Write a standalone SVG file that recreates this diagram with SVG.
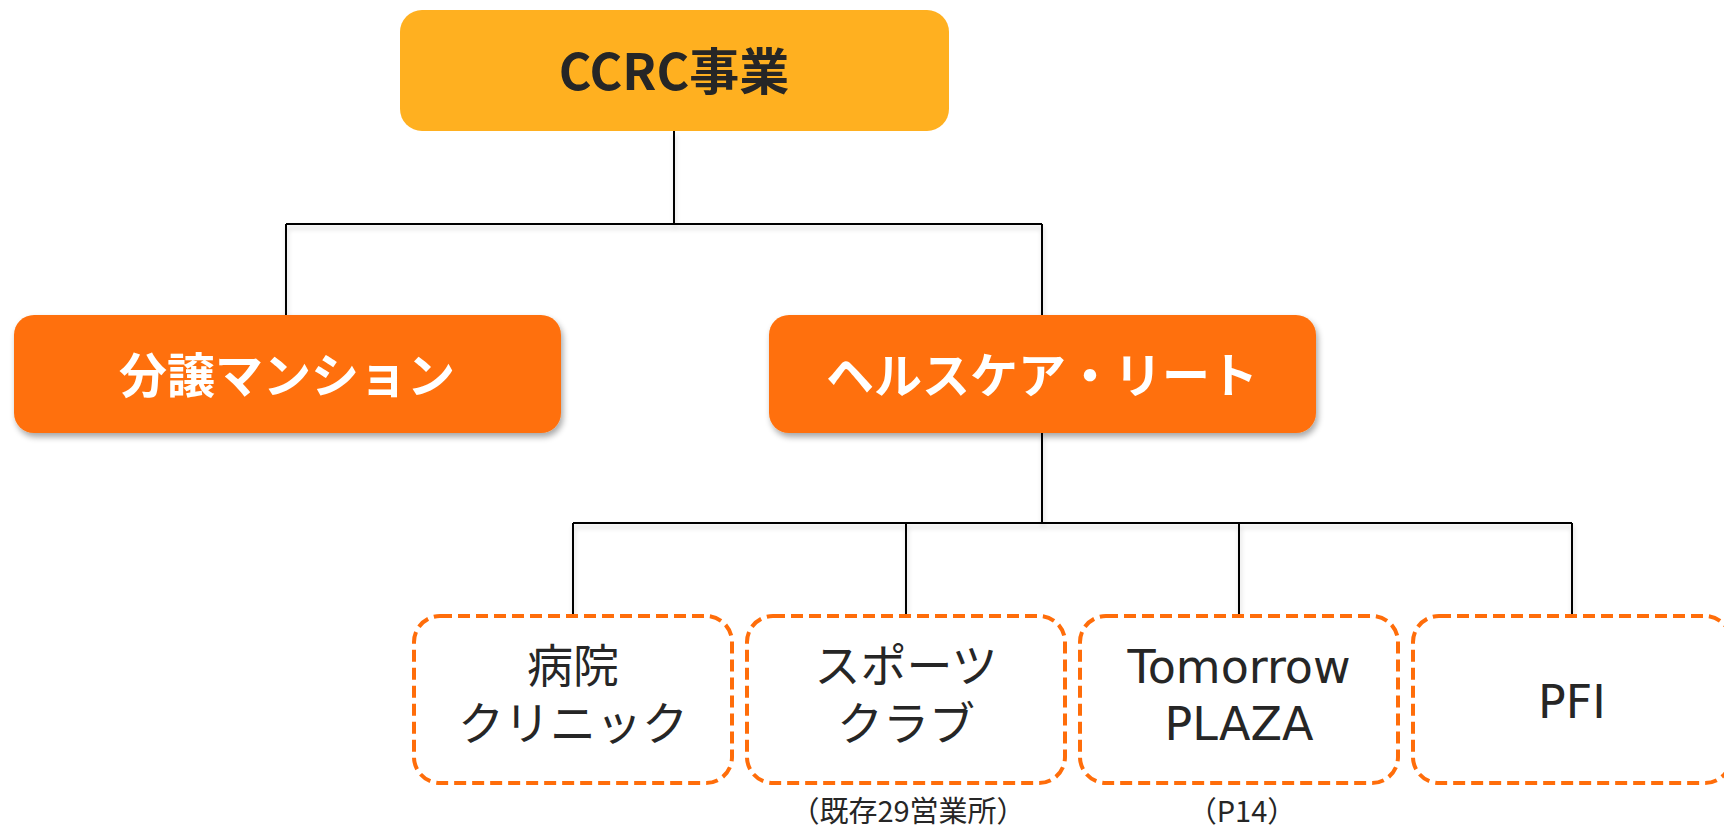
<svg xmlns="http://www.w3.org/2000/svg" width="1724" height="830" viewBox="0 0 1724 830">
  <defs>
    <filter id="shadow" x="-10%" y="-20%" width="130%" height="150%">
      <feGaussianBlur in="SourceAlpha" stdDeviation="3"/>
      <feOffset dx="2" dy="4" result="b"/>
      <feComponentTransfer><feFuncA type="linear" slope="0.35"/></feComponentTransfer>
      <feMerge><feMergeNode/><feMergeNode in="SourceGraphic"/></feMerge>
    </filter>
    <filter id="lineShadow" x="-5%" y="-50%" width="110%" height="200%">
      <feGaussianBlur in="SourceAlpha" stdDeviation="2.5"/>
      <feOffset dx="1" dy="4" result="b"/>
      <feComponentTransfer><feFuncA type="linear" slope="0.18"/></feComponentTransfer>
      <feMerge><feMergeNode/><feMergeNode in="SourceGraphic"/></feMerge>
    </filter>
  </defs>
  <style>
    .top { fill: #FFB020; }
    .mid { fill: #FF700A; }
    .leaf { fill: #FFFFFF; stroke: #FF6D0A; stroke-width: 4; stroke-dasharray: 12 6; }
    .conn { fill: none; stroke: #000000; stroke-width: 2; }
    .t-top { font-family: "Noto Sans CJK JP", sans-serif; font-weight: 700; font-size: 50px; fill: #262626; text-anchor: middle; }
    .t-mid { font-family: "Noto Sans CJK JP", sans-serif; font-weight: 700; font-size: 48px; fill: #FFFFFF; text-anchor: middle; }
    .t-leaf { font-family: "DejaVu Sans", "Noto Sans CJK JP", sans-serif; font-size: 46px; fill: #262626; text-anchor: middle; }
    .t-cjk { font-family: "Noto Sans CJK JP", sans-serif; font-size: 46px; fill: #262626; text-anchor: middle; }
    .t-note { font-family: "Noto Sans CJK JP", sans-serif; font-size: 29px; fill: #262626; text-anchor: middle; }
  </style>

  <g id="connectors" filter="url(#lineShadow)">
    <path class="conn" d="M674 131 V224 M286 224 H1042 M286 224 V315 M1042 224 V315"/>
    <path class="conn" d="M1042 433 V523 M573 523 H1572 M573 523 V616 M906 523 V616 M1239 523 V616 M1572 523 V616"/>
  </g>

  <g id="node-ccrc">
    <rect class="top" x="400" y="10" width="549" height="121" rx="22"/>
    <text class="t-top" x="674" y="90">CCRC事業</text>
  </g>

  <g id="node-mansion" filter="url(#shadow)">
    <rect class="mid" x="14" y="315" width="547" height="118" rx="20"/>
    <text class="t-mid" x="287" y="393">分譲マンション</text>
  </g>

  <g id="node-reit" filter="url(#shadow)">
    <rect class="mid" x="769" y="315" width="547" height="118" rx="20"/>
    <text class="t-mid" x="1042" y="393">ヘルスケア・リート</text>
  </g>

  <g id="node-hospital">
    <rect class="leaf" x="414" y="616" width="318" height="167" rx="26"/>
    <text class="t-cjk" x="573" y="682">病院</text>
    <text class="t-cjk" x="573" y="740">クリニック</text>
  </g>

  <g id="node-sports">
    <rect class="leaf" x="747" y="616" width="318" height="167" rx="26"/>
    <text class="t-cjk" x="906" y="682">スポーツ</text>
    <text class="t-cjk" x="906" y="740">クラブ</text>
    <text class="t-note" x="908" y="822">（既存29営業所）</text>
  </g>

  <g id="node-tomorrow">
    <rect class="leaf" x="1080" y="616" width="318" height="167" rx="26"/>
    <text class="t-leaf" x="1239" y="683">Tomorrow</text>
    <text class="t-leaf" x="1239" y="740">PLAZA</text>
    <text class="t-note" x="1242" y="822">（P14）</text>
  </g>

  <g id="node-pfi">
    <rect class="leaf" x="1413" y="616" width="318" height="167" rx="26"/>
    <text class="t-leaf" x="1572" y="718">PFI</text>
  </g>
</svg>
